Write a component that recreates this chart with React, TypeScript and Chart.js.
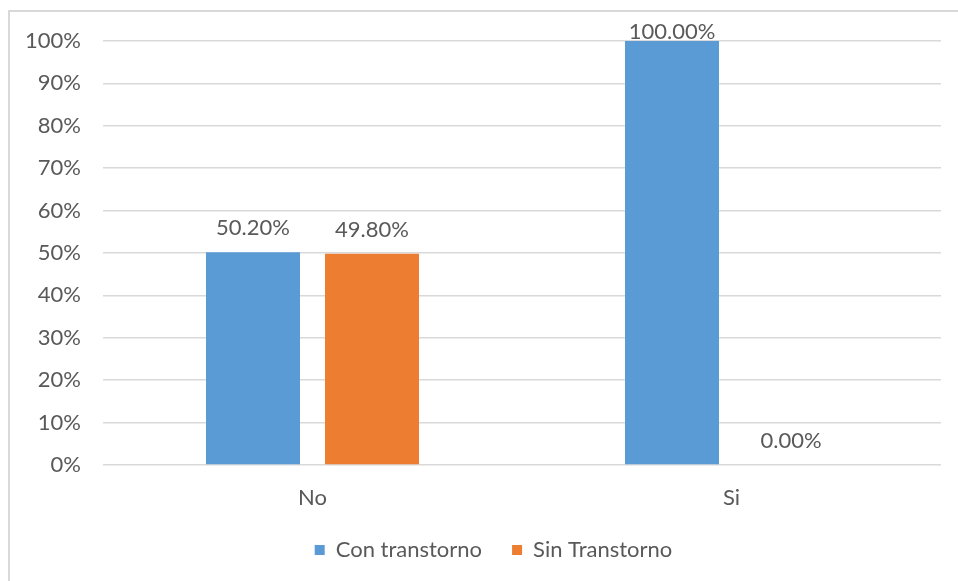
import React, { useEffect, useRef } from "react";
import { Chart, registerables } from "chart.js";

Chart.register(...registerables);

const categories = ["No", "Si"];
const conTranstorno = [0.502, 1.0];
const sinTranstorno = [0.498, 0.0];
const seriesNames = ["Con transtorno", "Sin Transtorno"];
const yTicks = [0, 0.1, 0.2, 0.3, 0.4, 0.5, 0.6, 0.7, 0.8, 0.9, 1.0];

const FONT = "Lato";
const FS = 22;
const TEXT = "#595959";

const dataLabels = {
  id: "dataLabels",
  afterLayout(chart: any) {
    if (chart.legend) {
      chart.legend.left += 18;
      chart.legend.right += 18;
    }
  },
  afterDatasetsDraw(chart: any) {
    const ctx = chart.ctx;
    ctx.save();
    ctx.font = `${FS}px ${FONT}`;
    ctx.fillStyle = TEXT;
    ctx.textAlign = "center";
    ctx.textBaseline = "bottom";
    chart.data.datasets.forEach((ds: any, i: number) => {
      const meta = chart.getDatasetMeta(i);
      meta.data.forEach((bar: any, j: number) => {
        const v = ds.data[j];
        const y = Math.max(bar.y - 13, chart.chartArea.top + 2);
        ctx.fillText((v * 100).toFixed(2) + "%", bar.x, y);
      });
    });
    ctx.restore();
  },
};

export default function App() {
  const ref = useRef<HTMLCanvasElement>(null);
  useEffect(() => {
    if (!ref.current) return;
    const chart = new Chart(ref.current, {
      type: "bar",
      data: {
        labels: categories,
        datasets: [
          {
            label: seriesNames[0],
            data: conTranstorno,
            backgroundColor: "#5B9BD5",
            categoryPercentage: 0.568,
            barPercentage: 0.79,
          },
          {
            label: seriesNames[1],
            data: sinTranstorno,
            backgroundColor: "#ED7D31",
            categoryPercentage: 0.568,
            barPercentage: 0.79,
          },
        ],
      },
      options: {
        animation: false,
        responsive: false,
        maintainAspectRatio: false,
        layout: { padding: { top: 29, right: 17, left: 0, bottom: 0 } },
        plugins: {
          tooltip: { enabled: false },
          legend: {
            position: "bottom",
            labels: {
              boxWidth: 10,
              boxHeight: 10,
              padding: 30,
              color: TEXT,
              font: { family: FONT, size: FS },
            },
          },
        },
        scales: {
          x: {
            grid: { display: false, drawTicks: false },
            border: { display: false },
            ticks: { color: TEXT, font: { family: FONT, size: FS }, padding: 20 },
            afterFit(scale: any) {
              scale.height = 44;
            },
          },
          y: {
            min: 0,
            max: 1,
            afterBuildTicks(scale: any) {
              scale.ticks = yTicks.map((v) => ({ value: v }));
            },
            grid: { color: "#d9d9d9", lineWidth: 1.5, drawTicks: false },
            border: { display: false },
            ticks: {
              color: TEXT,
              font: { family: FONT, size: FS },
              padding: 22,
              callback: (v: any) => Math.round(Number(v) * 100) + "%",
            },
            afterFit(scale: any) {
              scale.width = 93;
              scale.paddingTop = 12;
              scale.paddingBottom = 12;
            },
          },
        },
      },
      plugins: [dataLabels],
    });
    return () => chart.destroy();
  }, []);

  return (
    <div
      style={{
        position: "absolute",
        left: 8,
        top: 10,
        width: 950,
        height: 571,
        overflow: "hidden",
        borderTop: "2px solid #d9d9d9",
        borderLeft: "2px solid #d9d9d9",
        boxSizing: "border-box",
        background: "#fff",
      }}
    >
      <canvas ref={ref} width={948} height={559} style={{ display: "block" }} />
    </div>
  );
}
